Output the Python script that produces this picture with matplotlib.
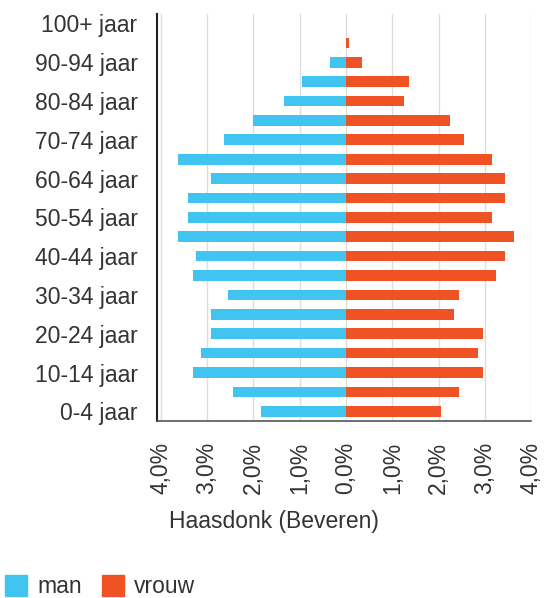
import numpy as np
import matplotlib.pyplot as plt
from matplotlib.patches import Patch

plt.rcParams["font.family"] = ["Liberation Sans", "DejaVu Sans"]

# Age groups from young to old
age_groups = ["0-4", "5-9", "10-14", "15-19", "20-24", "25-29", "30-34", "35-39",
              "40-44", "45-49", "50-54", "55-59", "60-64", "65-69", "70-74",
              "75-79", "80-84", "85-89", "90-94", "95-99", "100+"]

# Share of population (%)
man = [1.83, 2.43, 3.31, 3.13, 2.91, 2.91, 2.54, 3.31, 3.23, 3.63, 3.41,
       3.41, 2.91, 3.63, 2.64, 2.01, 1.34, 0.95, 0.34, 0.0, 0.0]
vrouw = [2.06, 2.45, 2.96, 2.86, 2.96, 2.34, 2.45, 3.24, 3.44, 3.64, 3.16,
         3.44, 3.44, 3.16, 2.56, 2.25, 1.26, 1.36, 0.35, 0.06, 0.0]

x_ticks = [-4, -3, -2, -1, 0, 1, 2, 3, 4]
x_labels = ["4,0%", "3,0%", "2,0%", "1,0%", "0,0%", "1,0%", "2,0%", "3,0%", "4,0%"]

blue = "#41C4EF"
orange = "#EF5323"
text_col = "#333333"
fs = 16.5

fig = plt.figure(figsize=(5.51, 5.98), dpi=100)
ax = fig.add_axes([0.285, 0.296, 0.679, 0.681])

y = np.arange(len(age_groups))
ax.barh(y, -np.array(man), height=0.55, color=blue, zorder=3)
ax.barh(y, vrouw, height=0.55, color=orange, zorder=3)

ax.set_xlim(-4.08, 4.0)
ax.set_ylim(-0.5, len(age_groups) - 0.5)

# only every other age group gets a label
ax.set_yticks(y[::2])
ax.set_yticklabels([a + " jaar" for a in age_groups[::2]], fontsize=fs, color=text_col)
ax.set_xticks(x_ticks)
ax.set_xticklabels(x_labels, rotation=90, fontsize=fs, color=text_col)
ax.tick_params(length=0)
ax.tick_params(axis="x", pad=15)
ax.tick_params(axis="y", pad=14)

ax.grid(axis="x", color="#dddddd", linewidth=1, zorder=0)
for s in ["top", "right"]:
    ax.spines[s].set_visible(False)
ax.spines["left"].set_color("#222222")
ax.spines["left"].set_linewidth(1.5)
ax.spines["bottom"].set_color("#555555")
ax.spines["bottom"].set_linewidth(1.2)

fig.text(0.497, 0.128, "Haasdonk (Beveren)", ha="center", va="center",
         fontsize=fs, color=text_col)

handles = [Patch(color=blue, label="man"), Patch(color=orange, label="vrouw")]
fig.legend(handles=handles, loc="upper left", bbox_to_anchor=(0.009, 0.038),
           ncol=2, frameon=False, fontsize=fs, handlelength=0.95, handleheight=1.0,
           handletextpad=0.45, columnspacing=0.9, borderpad=0, borderaxespad=0,
           labelcolor=text_col)

fig.savefig("out.png", dpi=100)
